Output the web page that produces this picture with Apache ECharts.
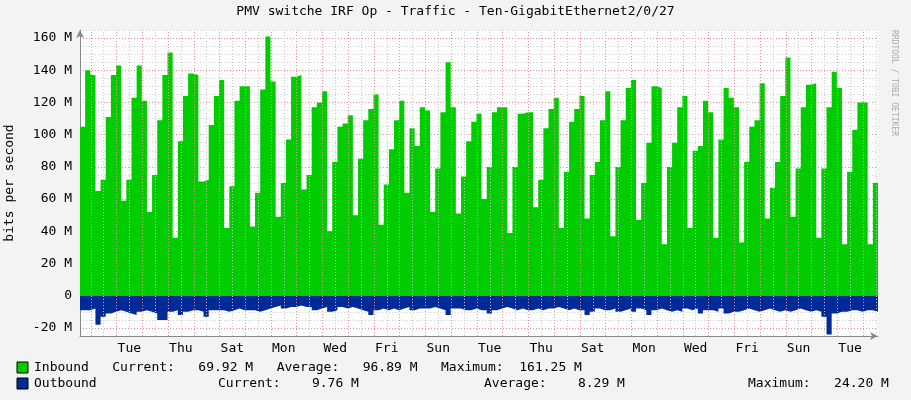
<!DOCTYPE html>
<html>
<head>
<meta charset="utf-8">
<script src="https://cdn.jsdelivr.net/npm/echarts@6/dist/echarts.min.js"></script>
<style>
  html, body { margin: 0; padding: 0; background: #f3f3f3; }
  #main { width: 911px; height: 400px; }
</style>
</head>
<body>
<div id="main"></div>
<script>
// 6 小时左右一个采样点 (每天 5 个)
var inbound = [
  105,140,137,65,72, 111,137,143,59,72, 123,143,121,52,75, 109,137,151,36,96,
  124,138,137,71,72, 106,124,134,42,68, 121,130,130,43,64, 128,161,133,49,70,
  97,136,137,66,75, 117,120,127,40,83, 105,107,112,
  50,85,109,116,125, 44,69,91,109,121, 64,104,93,117,115, 52,79,114,145,117,
  51,74,96,108,113, 60,80,114,117,117, 39,80,113,114,114, 55,72,104,116,123,
  42,77,108,116,124, 48,75,83,109,127, 37,80,
  109,129,134,47,70, 95,130,129,32,80, 95,117,124,42,90, 93,121,114,36,97,
  129,123,117,33,83, 105,109,132,48,67, 83,124,148,49,79, 117,131,132,36,79,
  117,139,129,32,77, 103,120,120,32,70
];
var outbound = [
  9,9,8,18,13,11,10,9,10,11, 12,10,9,10,11,15,15,10,9,12, 10,9,9,10,13,9,9,9,10,9,
  8,9,9,9,10,9,8,7,6,8, 7,7,6,7,7,9,8,7,10,9, 7,8,7,
  8,9,10,12,9,8,9,8,9,8, 7,9,8,8,8,7,8,9,12,8, 8,9,9,8,9,9,11,9,8,7,
  8,9,8,9,9,8,9,8,8,7, 8,9,8,9,9,12,10,8,9,9, 8,10,
  9,8,10,8,9,12,9,8,9,10, 9,10,8,9,8,11,9,9,10,8, 11,10,10,9,8,9,10,9,8,9,
  10,9,10,9,8,9,10,9,10,13, 24,11,10,10,9,9,10,9,9,10
];
var dayLabels = ['Tue','Thu','Sat','Mon','Wed','Fri','Sun','Tue','Thu','Sat','Mon','Wed','Fri','Sun','Tue'];
var yLabels = [-20, 0, 20, 40, 60, 80, 100, 120, 140, 160];

var STEP = 0.2;            // 一个采样点 = 0.2 天
var FIRST_MIDNIGHT = 0.416;
var N = inbound.length;
var XMAX = N * STEP;

function toPairs(arr, sign) {
  var out = arr.map(function (v, i) { return [i * STEP, sign * v]; });
  out.push([N * STEP, sign * arr[arr.length - 1]]);
  return out;
}

var midnights = [], noons = [], labelPos = [];
for (var d = FIRST_MIDNIGHT; d < XMAX; d += 1) {
  midnights.push(d);
  if (d + 0.5 < XMAX) noons.push(d + 0.5);
}
for (var k = 0; k < dayLabels.length; k++) labelPos.push(FIRST_MIDNIGHT + 1.5 + 2 * k);

var vLines = [];
noons.forEach(function (x) {
  vLines.push({ xAxis: x, lineStyle: { color: '#c8c8c8', type: [1, 2], width: 1 } });
});
midnights.forEach(function (x) {
  vLines.push({ xAxis: x, lineStyle: { color: '#f09090', type: [1, 2], width: 1 } });
});

var mono = 'DejaVu Sans Mono';
var myChart = echarts.init(document.getElementById('main'));
var option = {
  backgroundColor: '#f3f3f3',
  animation: false,
  textStyle: { fontFamily: mono },
  grid: { left: 80, right: 33, top: 30, bottom: 64, outerBoundsMode: 'none', containLabel: false,
          backgroundColor: '#fff', show: true, borderWidth: 0 },
  xAxis: {
    type: 'value', min: 0, max: XMAX,
    axisLine: { onZero: false, lineStyle: { color: '#888' }, symbol: ['none', 'arrow'], symbolSize: [6, 8] },
    axisTick: { show: false },
    splitLine: { show: false },
    axisLabel: {
      customValues: labelPos, color: '#000', fontSize: 13, fontFamily: mono, margin: 6,
      formatter: function (v) { return dayLabels[Math.round((v - FIRST_MIDNIGHT - 1.5) / 2)] || ''; }
    }
  },
  yAxis: {
    type: 'value', min: -25, max: 165, interval: 5,
    name: 'bits per second', nameLocation: 'middle', nameGap: 64,
    nameTextStyle: { fontFamily: mono, fontSize: 13, color: '#000' },
    axisLine: { show: true, lineStyle: { color: '#888' }, symbol: ['none', 'arrow'], symbolSize: [6, 8] },
    axisTick: { show: false },
    axisLabel: {
      color: '#000', fontSize: 13, fontFamily: mono, margin: 8,
      formatter: function (v) {
        if (yLabels.indexOf(v) < 0) return '';
        return v === 0 ? '0' : v + ' M';
      }
    },
    splitLine: { lineStyle: { color: ['#d0d0d0', '#f09090', '#d0d0d0', '#d0d0d0'], type: [1, 2] } }
  },
  series: [
    {
      name: 'grid', type: 'line', z: 1, data: [], symbol: 'none',
      markLine: { silent: true, symbol: 'none', label: { show: false }, data: vLines }
    },
    {
      name: 'Inbound', type: 'line', step: 'end', symbol: 'none', z: 3,
      data: toPairs(inbound, 1),
      lineStyle: { width: 0 }, areaStyle: { color: '#00cc00', opacity: 1 }
    },
    {
      name: 'Outbound', type: 'line', step: 'end', symbol: 'none', z: 3,
      data: toPairs(outbound, -1),
      lineStyle: { width: 0 }, areaStyle: { color: '#002a97', opacity: 1 }
    }
  ],
  graphic: [
    { type: 'text', left: 'center', top: 5, style: { text: 'PMV switche IRF Op - Traffic - Ten-GigabitEthernet2/0/27', font: '13px ' + mono, fill: '#000' } },
    { type: 'text', x: 898, y: 30, rotation: -Math.PI / 2, style: { text: 'RRDTOOL / TOBI OETIKER', font: '8px ' + mono, fill: '#aaa' } },
    { type: 'rect', shape: { x: 17, y: 362, width: 11, height: 11 }, style: { fill: '#00cc00', stroke: '#000', lineWidth: 1 } },
    { type: 'rect', shape: { x: 17, y: 378, width: 11, height: 11 }, style: { fill: '#002a97', stroke: '#000', lineWidth: 1 } },
    { type: 'text', x: 34, y: 361, style: { text: 'Inbound   Current:   69.92 M   Average:   96.89 M   Maximum:  161.25 M', font: '13px ' + mono, fill: '#000' } },
    { type: 'text', x: 34, y: 377, style: { text: 'Outbound', font: '13px ' + mono, fill: '#000' } },
    { type: 'text', x: 218, y: 377, style: { text: 'Current:    9.76 M', font: '13px ' + mono, fill: '#000' } },
    { type: 'text', x: 484, y: 377, style: { text: 'Average:    8.29 M', font: '13px ' + mono, fill: '#000' } },
    { type: 'text', x: 748, y: 377, style: { text: 'Maximum:   24.20 M', font: '13px ' + mono, fill: '#000' } }
  ]
};
myChart.setOption(option);
</script>
</body>
</html>
